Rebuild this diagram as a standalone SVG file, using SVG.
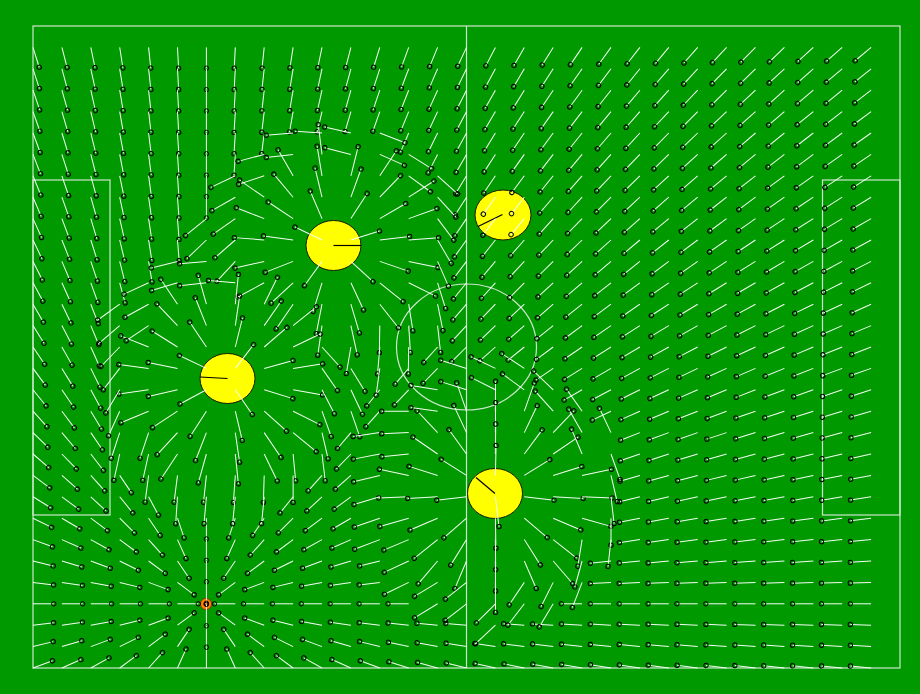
<svg xmlns="http://www.w3.org/2000/svg" width="920" height="694" viewBox="0 0 920 694">
<defs>
<style>
.b path{fill:none;stroke:none;marker-start:url(#mb)}
.r path{fill:none;stroke:none;marker-end:url(#mr)}
.m path{fill:none;stroke:none;marker-mid:url(#mm)}
.fl{fill:none;stroke:#cde6cd;stroke-width:1.2}
.pl{fill:#ffff00;stroke:#1a1a00;stroke-width:1}
.dir{stroke:#000;stroke-width:1.2}
</style>
<marker id="mb" markerUnits="userSpaceOnUse" orient="auto" refX="0" refY="0" markerWidth="1" markerHeight="1" overflow="visible"><path d="M0 0H20.8" stroke="#f4fff4" stroke-width="1"/><circle cx="20.8" cy="0" r="2.2" fill="none" stroke="#000" stroke-width="1"/></marker>
<marker id="mr" markerUnits="userSpaceOnUse" orient="auto" refX="0" refY="0" markerWidth="1" markerHeight="1" overflow="visible"><path d="M0 0H30" stroke="#f4fff4" stroke-width="1"/><circle cx="30" cy="0" r="2.2" fill="none" stroke="#000" stroke-width="1"/></marker>
<marker id="mm" markerUnits="userSpaceOnUse" orient="auto" refX="0" refY="0" markerWidth="1" markerHeight="1" overflow="visible"><path d="M0 0H27" stroke="#f4fff4" stroke-width="1"/><circle cx="27" cy="0" r="2.2" fill="none" stroke="#000" stroke-width="1"/></marker>
</defs>
<rect width="920" height="694" fill="#009900"/>
<g id="field">
<rect class="fl" x="33" y="26" width="867" height="642"/>
<line class="fl" x1="466.5" y1="26" x2="466.5" y2="668"/>
<ellipse class="fl" cx="466.5" cy="347" rx="70" ry="63"/>
<rect class="fl" x="33" y="180" width="77" height="335"/>
<rect class="fl" x="822.5" y="180" width="77.5" height="335"/>
</g>
<g id="player1"><ellipse class="pl" cx="333.5" cy="245.5" rx="27.5" ry="25"/><line class="dir" x1="333.5" y1="245.5" x2="361" y2="245.5"/></g>
<g id="player2"><ellipse class="pl" cx="227.5" cy="378.5" rx="27.5" ry="25"/><line class="dir" x1="227.5" y1="378.5" x2="200" y2="377"/></g>
<g id="player3"><ellipse class="pl" cx="503" cy="215" rx="28" ry="25"/><line class="dir" x1="502.5" y1="214.5" x2="478" y2="226.5"/></g>
<g id="player4"><ellipse class="pl" cx="495" cy="493.5" rx="27.5" ry="25"/><line class="dir" x1="495" y1="493.5" x2="476" y2="477.5"/></g>
<g id="ball"><circle cx="206" cy="604" r="5.6" fill="#ff8000" stroke="#8a3000" stroke-width="1"/><circle cx="206" cy="604" r="2.1" fill="none" stroke="#000" stroke-width="1"/></g>
<g id="connectors">
<g class="b">
<path d="M33 47.4L206.4 603.8"/><path d="M61.9 47.4L206.4 603.8"/><path d="M90.8 47.4L206.4 603.8"/><path d="M119.7 47.4L206.4 603.8"/><path d="M148.6 47.4L206.4 603.8"/><path d="M177.5 47.4L206.4 603.8"/><path d="M206.4 47.4L206.4 603.8"/><path d="M235.3 47.4L206.4 603.8"/><path d="M264.2 47.4L206.4 603.8"/><path d="M293.1 47.4L206.4 603.8"/><path d="M322 47.4L206.4 603.8"/><path d="M350.9 47.4L206.4 603.8"/><path d="M379.8 47.4L206.4 603.8"/><path d="M408.7 47.4L206.4 603.8"/><path d="M437.6 47.4L206.4 603.8"/><path d="M466.5 47.4L206.4 603.8"/><path d="M495.4 47.4L206.4 603.8"/><path d="M524.3 47.4L206.4 603.8"/><path d="M553.2 47.4L206.4 603.8"/><path d="M582.1 47.4L206.4 603.8"/><path d="M611 47.4L206.4 603.8"/><path d="M639.9 47.4L206.4 603.8"/><path d="M668.8 47.4L206.4 603.8"/><path d="M697.7 47.4L206.4 603.8"/><path d="M726.6 47.4L206.4 603.8"/><path d="M755.5 47.4L206.4 603.8"/><path d="M784.4 47.4L206.4 603.8"/><path d="M813.3 47.4L206.4 603.8"/><path d="M842.2 47.4L206.4 603.8"/><path d="M871.1 47.4L206.4 603.8"/>
<path d="M33 68.8L206.4 603.8"/><path d="M61.9 68.8L206.4 603.8"/><path d="M90.8 68.8L206.4 603.8"/><path d="M119.7 68.8L206.4 603.8"/><path d="M148.6 68.8L206.4 603.8"/><path d="M177.5 68.8L206.4 603.8"/><path d="M206.4 68.8L206.4 603.8"/><path d="M235.3 68.8L206.4 603.8"/><path d="M264.2 68.8L206.4 603.8"/><path d="M293.1 68.8L206.4 603.8"/><path d="M322 68.8L206.4 603.8"/><path d="M350.9 68.8L206.4 603.8"/><path d="M379.8 68.8L206.4 603.8"/><path d="M408.7 68.8L206.4 603.8"/><path d="M437.6 68.8L206.4 603.8"/><path d="M466.5 68.8L206.4 603.8"/><path d="M495.4 68.8L206.4 603.8"/><path d="M524.3 68.8L206.4 603.8"/><path d="M553.2 68.8L206.4 603.8"/><path d="M582.1 68.8L206.4 603.8"/><path d="M611 68.8L206.4 603.8"/><path d="M639.9 68.8L206.4 603.8"/><path d="M668.8 68.8L206.4 603.8"/><path d="M697.7 68.8L206.4 603.8"/><path d="M726.6 68.8L206.4 603.8"/><path d="M755.5 68.8L206.4 603.8"/><path d="M784.4 68.8L206.4 603.8"/><path d="M813.3 68.8L206.4 603.8"/><path d="M842.2 68.8L206.4 603.8"/><path d="M871.1 68.8L206.4 603.8"/>
<path d="M33 90.2L206.4 603.8"/><path d="M61.9 90.2L206.4 603.8"/><path d="M90.8 90.2L206.4 603.8"/><path d="M119.7 90.2L206.4 603.8"/><path d="M148.6 90.2L206.4 603.8"/><path d="M177.5 90.2L206.4 603.8"/><path d="M206.4 90.2L206.4 603.8"/><path d="M235.3 90.2L206.4 603.8"/><path d="M264.2 90.2L206.4 603.8"/><path d="M293.1 90.2L206.4 603.8"/><path d="M322 90.2L206.4 603.8"/><path d="M350.9 90.2L206.4 603.8"/><path d="M379.8 90.2L206.4 603.8"/><path d="M408.7 90.2L206.4 603.8"/><path d="M437.6 90.2L206.4 603.8"/><path d="M466.5 90.2L206.4 603.8"/><path d="M495.4 90.2L206.4 603.8"/><path d="M524.3 90.2L206.4 603.8"/><path d="M553.2 90.2L206.4 603.8"/><path d="M582.1 90.2L206.4 603.8"/><path d="M611 90.2L206.4 603.8"/><path d="M639.9 90.2L206.4 603.8"/><path d="M668.8 90.2L206.4 603.8"/><path d="M697.7 90.2L206.4 603.8"/><path d="M726.6 90.2L206.4 603.8"/><path d="M755.5 90.2L206.4 603.8"/><path d="M784.4 90.2L206.4 603.8"/><path d="M813.3 90.2L206.4 603.8"/><path d="M842.2 90.2L206.4 603.8"/><path d="M871.1 90.2L206.4 603.8"/>
<path d="M33 111.6L206.4 603.8"/><path d="M61.9 111.6L206.4 603.8"/><path d="M90.8 111.6L206.4 603.8"/><path d="M119.7 111.6L206.4 603.8"/><path d="M148.6 111.6L206.4 603.8"/><path d="M177.5 111.6L206.4 603.8"/><path d="M206.4 111.6L206.4 603.8"/><path d="M235.3 111.6L206.4 603.8"/><path d="M264.2 111.6L206.4 603.8"/><path d="M293.1 111.6L206.4 603.8"/><path d="M322 111.6L206.4 603.8"/><path d="M350.9 111.6L206.4 603.8"/><path d="M379.8 111.6L206.4 603.8"/><path d="M408.7 111.6L206.4 603.8"/><path d="M437.6 111.6L206.4 603.8"/><path d="M466.5 111.6L206.4 603.8"/><path d="M495.4 111.6L206.4 603.8"/><path d="M524.3 111.6L206.4 603.8"/><path d="M553.2 111.6L206.4 603.8"/><path d="M582.1 111.6L206.4 603.8"/><path d="M611 111.6L206.4 603.8"/><path d="M639.9 111.6L206.4 603.8"/><path d="M668.8 111.6L206.4 603.8"/><path d="M697.7 111.6L206.4 603.8"/><path d="M726.6 111.6L206.4 603.8"/><path d="M755.5 111.6L206.4 603.8"/><path d="M784.4 111.6L206.4 603.8"/><path d="M813.3 111.6L206.4 603.8"/><path d="M842.2 111.6L206.4 603.8"/><path d="M871.1 111.6L206.4 603.8"/>
<path d="M33 133L206.4 603.8"/><path d="M61.9 133L206.4 603.8"/><path d="M90.8 133L206.4 603.8"/><path d="M119.7 133L206.4 603.8"/><path d="M148.6 133L206.4 603.8"/><path d="M177.5 133L206.4 603.8"/><path d="M206.4 133L206.4 603.8"/><path d="M235.3 133L206.4 603.8"/><path d="M264.2 133L206.4 603.8"/><path d="M408.7 133L206.4 603.8"/><path d="M437.6 133L206.4 603.8"/><path d="M466.5 133L206.4 603.8"/><path d="M495.4 133L206.4 603.8"/><path d="M524.3 133L206.4 603.8"/><path d="M553.2 133L206.4 603.8"/><path d="M582.1 133L206.4 603.8"/><path d="M611 133L206.4 603.8"/><path d="M639.9 133L206.4 603.8"/><path d="M668.8 133L206.4 603.8"/><path d="M697.7 133L206.4 603.8"/><path d="M726.6 133L206.4 603.8"/><path d="M755.5 133L206.4 603.8"/><path d="M784.4 133L206.4 603.8"/><path d="M813.3 133L206.4 603.8"/><path d="M842.2 133L206.4 603.8"/><path d="M871.1 133L206.4 603.8"/>
<path d="M33 154.4L206.4 603.8"/><path d="M61.9 154.4L206.4 603.8"/><path d="M90.8 154.4L206.4 603.8"/><path d="M119.7 154.4L206.4 603.8"/><path d="M148.6 154.4L206.4 603.8"/><path d="M177.5 154.4L206.4 603.8"/><path d="M206.4 154.4L206.4 603.8"/><path d="M235.3 154.4L206.4 603.8"/><path d="M437.6 154.4L206.4 603.8"/><path d="M466.5 154.4L206.4 603.8"/><path d="M495.4 154.4L206.4 603.8"/><path d="M524.3 154.4L206.4 603.8"/><path d="M553.2 154.4L206.4 603.8"/><path d="M582.1 154.4L206.4 603.8"/><path d="M611 154.4L206.4 603.8"/><path d="M639.9 154.4L206.4 603.8"/><path d="M668.8 154.4L206.4 603.8"/><path d="M697.7 154.4L206.4 603.8"/><path d="M726.6 154.4L206.4 603.8"/><path d="M755.5 154.4L206.4 603.8"/><path d="M784.4 154.4L206.4 603.8"/><path d="M813.3 154.4L206.4 603.8"/><path d="M842.2 154.4L206.4 603.8"/><path d="M871.1 154.4L206.4 603.8"/>
<path d="M33 175.8L206.4 603.8"/><path d="M61.9 175.8L206.4 603.8"/><path d="M90.8 175.8L206.4 603.8"/><path d="M119.7 175.8L206.4 603.8"/><path d="M148.6 175.8L206.4 603.8"/><path d="M177.5 175.8L206.4 603.8"/><path d="M206.4 175.8L206.4 603.8"/><path d="M466.5 175.8L206.4 603.8"/><path d="M495.4 175.8L206.4 603.8"/><path d="M524.3 175.8L206.4 603.8"/><path d="M553.2 175.8L206.4 603.8"/><path d="M582.1 175.8L206.4 603.8"/><path d="M611 175.8L206.4 603.8"/><path d="M639.9 175.8L206.4 603.8"/><path d="M668.8 175.8L206.4 603.8"/><path d="M697.7 175.8L206.4 603.8"/><path d="M726.6 175.8L206.4 603.8"/><path d="M755.5 175.8L206.4 603.8"/><path d="M784.4 175.8L206.4 603.8"/><path d="M813.3 175.8L206.4 603.8"/><path d="M842.2 175.8L206.4 603.8"/><path d="M871.1 175.8L206.4 603.8"/>
<path d="M33 197.2L206.4 603.8"/><path d="M61.9 197.2L206.4 603.8"/><path d="M90.8 197.2L206.4 603.8"/><path d="M119.7 197.2L206.4 603.8"/><path d="M148.6 197.2L206.4 603.8"/><path d="M177.5 197.2L206.4 603.8"/><path d="M206.4 197.2L206.4 603.8"/><path d="M466.5 197.2L206.4 603.8"/><path d="M495.4 197.2L206.4 603.8"/><path d="M524.3 197.2L206.4 603.8"/><path d="M553.2 197.2L206.4 603.8"/><path d="M582.1 197.2L206.4 603.8"/><path d="M611 197.2L206.4 603.8"/><path d="M639.9 197.2L206.4 603.8"/><path d="M668.8 197.2L206.4 603.8"/><path d="M697.7 197.2L206.4 603.8"/><path d="M726.6 197.2L206.4 603.8"/><path d="M755.5 197.2L206.4 603.8"/><path d="M784.4 197.2L206.4 603.8"/><path d="M813.3 197.2L206.4 603.8"/><path d="M842.2 197.2L206.4 603.8"/><path d="M871.1 197.2L206.4 603.8"/>
<path d="M33 218.6L206.4 603.8"/><path d="M61.9 218.6L206.4 603.8"/><path d="M90.8 218.6L206.4 603.8"/><path d="M119.7 218.6L206.4 603.8"/><path d="M148.6 218.6L206.4 603.8"/><path d="M177.5 218.6L206.4 603.8"/><path d="M466.5 218.6L206.4 603.8"/><path d="M495.4 218.6L206.4 603.8"/><path d="M524.3 218.6L206.4 603.8"/><path d="M553.2 218.6L206.4 603.8"/><path d="M582.1 218.6L206.4 603.8"/><path d="M611 218.6L206.4 603.8"/><path d="M639.9 218.6L206.4 603.8"/><path d="M668.8 218.6L206.4 603.8"/><path d="M697.7 218.6L206.4 603.8"/><path d="M726.6 218.6L206.4 603.8"/><path d="M755.5 218.6L206.4 603.8"/><path d="M784.4 218.6L206.4 603.8"/><path d="M813.3 218.6L206.4 603.8"/><path d="M842.2 218.6L206.4 603.8"/><path d="M871.1 218.6L206.4 603.8"/>
<path d="M33 240L206.4 603.8"/><path d="M61.9 240L206.4 603.8"/><path d="M90.8 240L206.4 603.8"/><path d="M119.7 240L206.4 603.8"/><path d="M148.6 240L206.4 603.8"/><path d="M177.5 240L206.4 603.8"/><path d="M466.5 240L206.4 603.8"/><path d="M495.4 240L206.4 603.8"/><path d="M524.3 240L206.4 603.8"/><path d="M553.2 240L206.4 603.8"/><path d="M582.1 240L206.4 603.8"/><path d="M611 240L206.4 603.8"/><path d="M639.9 240L206.4 603.8"/><path d="M668.8 240L206.4 603.8"/><path d="M697.7 240L206.4 603.8"/><path d="M726.6 240L206.4 603.8"/><path d="M755.5 240L206.4 603.8"/><path d="M784.4 240L206.4 603.8"/><path d="M813.3 240L206.4 603.8"/><path d="M842.2 240L206.4 603.8"/><path d="M871.1 240L206.4 603.8"/>
<path d="M33 261.4L206.4 603.8"/><path d="M61.9 261.4L206.4 603.8"/><path d="M90.8 261.4L206.4 603.8"/><path d="M119.7 261.4L206.4 603.8"/><path d="M148.6 261.4L206.4 603.8"/><path d="M466.5 261.4L206.4 603.8"/><path d="M495.4 261.4L206.4 603.8"/><path d="M524.3 261.4L206.4 603.8"/><path d="M553.2 261.4L206.4 603.8"/><path d="M582.1 261.4L206.4 603.8"/><path d="M611 261.4L206.4 603.8"/><path d="M639.9 261.4L206.4 603.8"/><path d="M668.8 261.4L206.4 603.8"/><path d="M697.7 261.4L206.4 603.8"/><path d="M726.6 261.4L206.4 603.8"/><path d="M755.5 261.4L206.4 603.8"/><path d="M784.4 261.4L206.4 603.8"/><path d="M813.3 261.4L206.4 603.8"/><path d="M842.2 261.4L206.4 603.8"/><path d="M871.1 261.4L206.4 603.8"/>
<path d="M33 282.8L206.4 603.8"/><path d="M61.9 282.8L206.4 603.8"/><path d="M90.8 282.8L206.4 603.8"/><path d="M119.7 282.8L206.4 603.8"/><path d="M466.5 282.8L206.4 603.8"/><path d="M495.4 282.8L206.4 603.8"/><path d="M524.3 282.8L206.4 603.8"/><path d="M553.2 282.8L206.4 603.8"/><path d="M582.1 282.8L206.4 603.8"/><path d="M611 282.8L206.4 603.8"/><path d="M639.9 282.8L206.4 603.8"/><path d="M668.8 282.8L206.4 603.8"/><path d="M697.7 282.8L206.4 603.8"/><path d="M726.6 282.8L206.4 603.8"/><path d="M755.5 282.8L206.4 603.8"/><path d="M784.4 282.8L206.4 603.8"/><path d="M813.3 282.8L206.4 603.8"/><path d="M842.2 282.8L206.4 603.8"/><path d="M871.1 282.8L206.4 603.8"/>
<path d="M33 304.2L206.4 603.8"/><path d="M61.9 304.2L206.4 603.8"/><path d="M90.8 304.2L206.4 603.8"/><path d="M466.5 304.2L206.4 603.8"/><path d="M495.4 304.2L206.4 603.8"/><path d="M524.3 304.2L206.4 603.8"/><path d="M553.2 304.2L206.4 603.8"/><path d="M582.1 304.2L206.4 603.8"/><path d="M611 304.2L206.4 603.8"/><path d="M639.9 304.2L206.4 603.8"/><path d="M668.8 304.2L206.4 603.8"/><path d="M697.7 304.2L206.4 603.8"/><path d="M726.6 304.2L206.4 603.8"/><path d="M755.5 304.2L206.4 603.8"/><path d="M784.4 304.2L206.4 603.8"/><path d="M813.3 304.2L206.4 603.8"/><path d="M842.2 304.2L206.4 603.8"/><path d="M871.1 304.2L206.4 603.8"/>
<path d="M33 325.6L206.4 603.8"/><path d="M61.9 325.6L206.4 603.8"/><path d="M90.8 325.6L206.4 603.8"/><path d="M466.5 325.6L206.4 603.8"/><path d="M495.4 325.6L206.4 603.8"/><path d="M524.3 325.6L206.4 603.8"/><path d="M553.2 325.6L206.4 603.8"/><path d="M582.1 325.6L206.4 603.8"/><path d="M611 325.6L206.4 603.8"/><path d="M639.9 325.6L206.4 603.8"/><path d="M668.8 325.6L206.4 603.8"/><path d="M697.7 325.6L206.4 603.8"/><path d="M726.6 325.6L206.4 603.8"/><path d="M755.5 325.6L206.4 603.8"/><path d="M784.4 325.6L206.4 603.8"/><path d="M813.3 325.6L206.4 603.8"/><path d="M842.2 325.6L206.4 603.8"/><path d="M871.1 325.6L206.4 603.8"/>
<path d="M33 347L206.4 603.8"/><path d="M61.9 347L206.4 603.8"/><path d="M90.8 347L206.4 603.8"/><path d="M437.6 347L206.4 603.8"/><path d="M466.5 347L206.4 603.8"/><path d="M495.4 347L206.4 603.8"/><path d="M524.3 347L206.4 603.8"/><path d="M553.2 347L206.4 603.8"/><path d="M582.1 347L206.4 603.8"/><path d="M611 347L206.4 603.8"/><path d="M639.9 347L206.4 603.8"/><path d="M668.8 347L206.4 603.8"/><path d="M697.7 347L206.4 603.8"/><path d="M726.6 347L206.4 603.8"/><path d="M755.5 347L206.4 603.8"/><path d="M784.4 347L206.4 603.8"/><path d="M813.3 347L206.4 603.8"/><path d="M842.2 347L206.4 603.8"/><path d="M871.1 347L206.4 603.8"/>
<path d="M33 368.4L206.4 603.8"/><path d="M61.9 368.4L206.4 603.8"/><path d="M90.8 368.4L206.4 603.8"/><path d="M408.7 368.4L206.4 603.8"/><path d="M437.6 368.4L206.4 603.8"/><path d="M553.2 368.4L206.4 603.8"/><path d="M582.1 368.4L206.4 603.8"/><path d="M611 368.4L206.4 603.8"/><path d="M639.9 368.4L206.4 603.8"/><path d="M668.8 368.4L206.4 603.8"/><path d="M697.7 368.4L206.4 603.8"/><path d="M726.6 368.4L206.4 603.8"/><path d="M755.5 368.4L206.4 603.8"/><path d="M784.4 368.4L206.4 603.8"/><path d="M813.3 368.4L206.4 603.8"/><path d="M842.2 368.4L206.4 603.8"/><path d="M871.1 368.4L206.4 603.8"/>
<path d="M33 389.8L206.4 603.8"/><path d="M61.9 389.8L206.4 603.8"/><path d="M90.8 389.8L206.4 603.8"/><path d="M379.8 389.8L206.4 603.8"/><path d="M408.7 389.8L206.4 603.8"/><path d="M582.1 389.8L206.4 603.8"/><path d="M611 389.8L206.4 603.8"/><path d="M639.9 389.8L206.4 603.8"/><path d="M668.8 389.8L206.4 603.8"/><path d="M697.7 389.8L206.4 603.8"/><path d="M726.6 389.8L206.4 603.8"/><path d="M755.5 389.8L206.4 603.8"/><path d="M784.4 389.8L206.4 603.8"/><path d="M813.3 389.8L206.4 603.8"/><path d="M842.2 389.8L206.4 603.8"/><path d="M871.1 389.8L206.4 603.8"/>
<path d="M33 411.2L206.4 603.8"/><path d="M61.9 411.2L206.4 603.8"/><path d="M90.8 411.2L206.4 603.8"/><path d="M379.8 411.2L206.4 603.8"/><path d="M611 411.2L206.4 603.8"/><path d="M639.9 411.2L206.4 603.8"/><path d="M668.8 411.2L206.4 603.8"/><path d="M697.7 411.2L206.4 603.8"/><path d="M726.6 411.2L206.4 603.8"/><path d="M755.5 411.2L206.4 603.8"/><path d="M784.4 411.2L206.4 603.8"/><path d="M813.3 411.2L206.4 603.8"/><path d="M842.2 411.2L206.4 603.8"/><path d="M871.1 411.2L206.4 603.8"/>
<path d="M33 432.6L206.4 603.8"/><path d="M61.9 432.6L206.4 603.8"/><path d="M90.8 432.6L206.4 603.8"/><path d="M350.9 432.6L206.4 603.8"/><path d="M639.9 432.6L206.4 603.8"/><path d="M668.8 432.6L206.4 603.8"/><path d="M697.7 432.6L206.4 603.8"/><path d="M726.6 432.6L206.4 603.8"/><path d="M755.5 432.6L206.4 603.8"/><path d="M784.4 432.6L206.4 603.8"/><path d="M813.3 432.6L206.4 603.8"/><path d="M842.2 432.6L206.4 603.8"/><path d="M871.1 432.6L206.4 603.8"/>
<path d="M33 454L206.4 603.8"/><path d="M61.9 454L206.4 603.8"/><path d="M90.8 454L206.4 603.8"/><path d="M350.9 454L206.4 603.8"/><path d="M639.9 454L206.4 603.8"/><path d="M668.8 454L206.4 603.8"/><path d="M697.7 454L206.4 603.8"/><path d="M726.6 454L206.4 603.8"/><path d="M755.5 454L206.4 603.8"/><path d="M784.4 454L206.4 603.8"/><path d="M813.3 454L206.4 603.8"/><path d="M842.2 454L206.4 603.8"/><path d="M871.1 454L206.4 603.8"/>
<path d="M33 475.4L206.4 603.8"/><path d="M61.9 475.4L206.4 603.8"/><path d="M90.8 475.4L206.4 603.8"/><path d="M119.7 475.4L206.4 603.8"/><path d="M322 475.4L206.4 603.8"/><path d="M350.9 475.4L206.4 603.8"/><path d="M639.9 475.4L206.4 603.8"/><path d="M668.8 475.4L206.4 603.8"/><path d="M697.7 475.4L206.4 603.8"/><path d="M726.6 475.4L206.4 603.8"/><path d="M755.5 475.4L206.4 603.8"/><path d="M784.4 475.4L206.4 603.8"/><path d="M813.3 475.4L206.4 603.8"/><path d="M842.2 475.4L206.4 603.8"/><path d="M871.1 475.4L206.4 603.8"/>
<path d="M33 496.8L206.4 603.8"/><path d="M61.9 496.8L206.4 603.8"/><path d="M90.8 496.8L206.4 603.8"/><path d="M119.7 496.8L206.4 603.8"/><path d="M148.6 496.8L206.4 603.8"/><path d="M293.1 496.8L206.4 603.8"/><path d="M322 496.8L206.4 603.8"/><path d="M350.9 496.8L206.4 603.8"/><path d="M639.9 496.8L206.4 603.8"/><path d="M668.8 496.8L206.4 603.8"/><path d="M697.7 496.8L206.4 603.8"/><path d="M726.6 496.8L206.4 603.8"/><path d="M755.5 496.8L206.4 603.8"/><path d="M784.4 496.8L206.4 603.8"/><path d="M813.3 496.8L206.4 603.8"/><path d="M842.2 496.8L206.4 603.8"/><path d="M871.1 496.8L206.4 603.8"/>
<path d="M33 518.2L206.4 603.8"/><path d="M61.9 518.2L206.4 603.8"/><path d="M90.8 518.2L206.4 603.8"/><path d="M119.7 518.2L206.4 603.8"/><path d="M148.6 518.2L206.4 603.8"/><path d="M177.5 518.2L206.4 603.8"/><path d="M206.4 518.2L206.4 603.8"/><path d="M235.3 518.2L206.4 603.8"/><path d="M264.2 518.2L206.4 603.8"/><path d="M293.1 518.2L206.4 603.8"/><path d="M322 518.2L206.4 603.8"/><path d="M350.9 518.2L206.4 603.8"/><path d="M639.9 518.2L206.4 603.8"/><path d="M668.8 518.2L206.4 603.8"/><path d="M697.7 518.2L206.4 603.8"/><path d="M726.6 518.2L206.4 603.8"/><path d="M755.5 518.2L206.4 603.8"/><path d="M784.4 518.2L206.4 603.8"/><path d="M813.3 518.2L206.4 603.8"/><path d="M842.2 518.2L206.4 603.8"/><path d="M871.1 518.2L206.4 603.8"/>
<path d="M33 539.6L206.4 603.8"/><path d="M61.9 539.6L206.4 603.8"/><path d="M90.8 539.6L206.4 603.8"/><path d="M119.7 539.6L206.4 603.8"/><path d="M148.6 539.6L206.4 603.8"/><path d="M177.5 539.6L206.4 603.8"/><path d="M206.4 539.6L206.4 603.8"/><path d="M235.3 539.6L206.4 603.8"/><path d="M264.2 539.6L206.4 603.8"/><path d="M293.1 539.6L206.4 603.8"/><path d="M322 539.6L206.4 603.8"/><path d="M350.9 539.6L206.4 603.8"/><path d="M639.9 539.6L206.4 603.8"/><path d="M668.8 539.6L206.4 603.8"/><path d="M697.7 539.6L206.4 603.8"/><path d="M726.6 539.6L206.4 603.8"/><path d="M755.5 539.6L206.4 603.8"/><path d="M784.4 539.6L206.4 603.8"/><path d="M813.3 539.6L206.4 603.8"/><path d="M842.2 539.6L206.4 603.8"/><path d="M871.1 539.6L206.4 603.8"/>
<path d="M33 561L206.4 603.8"/><path d="M61.9 561L206.4 603.8"/><path d="M90.8 561L206.4 603.8"/><path d="M119.7 561L206.4 603.8"/><path d="M148.6 561L206.4 603.8"/><path d="M177.5 561L206.4 603.8"/><path d="M206.4 561L206.4 603.8"/><path d="M235.3 561L206.4 603.8"/><path d="M264.2 561L206.4 603.8"/><path d="M293.1 561L206.4 603.8"/><path d="M322 561L206.4 603.8"/><path d="M350.9 561L206.4 603.8"/><path d="M379.8 561L206.4 603.8"/><path d="M611 561L206.4 603.8"/><path d="M639.9 561L206.4 603.8"/><path d="M668.8 561L206.4 603.8"/><path d="M697.7 561L206.4 603.8"/><path d="M726.6 561L206.4 603.8"/><path d="M755.5 561L206.4 603.8"/><path d="M784.4 561L206.4 603.8"/><path d="M813.3 561L206.4 603.8"/><path d="M842.2 561L206.4 603.8"/><path d="M871.1 561L206.4 603.8"/>
<path d="M33 582.4L206.4 603.8"/><path d="M61.9 582.4L206.4 603.8"/><path d="M90.8 582.4L206.4 603.8"/><path d="M119.7 582.4L206.4 603.8"/><path d="M148.6 582.4L206.4 603.8"/><path d="M177.5 582.4L206.4 603.8"/><path d="M206.4 582.4L206.4 603.8"/><path d="M235.3 582.4L206.4 603.8"/><path d="M264.2 582.4L206.4 603.8"/><path d="M293.1 582.4L206.4 603.8"/><path d="M322 582.4L206.4 603.8"/><path d="M350.9 582.4L206.4 603.8"/><path d="M379.8 582.4L206.4 603.8"/><path d="M611 582.4L206.4 603.8"/><path d="M639.9 582.4L206.4 603.8"/><path d="M668.8 582.4L206.4 603.8"/><path d="M697.7 582.4L206.4 603.8"/><path d="M726.6 582.4L206.4 603.8"/><path d="M755.5 582.4L206.4 603.8"/><path d="M784.4 582.4L206.4 603.8"/><path d="M813.3 582.4L206.4 603.8"/><path d="M842.2 582.4L206.4 603.8"/><path d="M871.1 582.4L206.4 603.8"/>
<path d="M33 603.8L206.4 603.8"/><path d="M61.9 603.8L206.4 603.8"/><path d="M90.8 603.8L206.4 603.8"/><path d="M119.7 603.8L206.4 603.8"/><path d="M148.6 603.8L206.4 603.8"/><path d="M177.5 603.8L206.4 603.8"/><path d="M235.3 603.8L206.4 603.8"/><path d="M264.2 603.8L206.4 603.8"/><path d="M293.1 603.8L206.4 603.8"/><path d="M322 603.8L206.4 603.8"/><path d="M350.9 603.8L206.4 603.8"/><path d="M379.8 603.8L206.4 603.8"/><path d="M408.7 603.8L206.4 603.8"/><path d="M582.1 603.8L206.4 603.8"/><path d="M611 603.8L206.4 603.8"/><path d="M639.9 603.8L206.4 603.8"/><path d="M668.8 603.8L206.4 603.8"/><path d="M697.7 603.8L206.4 603.8"/><path d="M726.6 603.8L206.4 603.8"/><path d="M755.5 603.8L206.4 603.8"/><path d="M784.4 603.8L206.4 603.8"/><path d="M813.3 603.8L206.4 603.8"/><path d="M842.2 603.8L206.4 603.8"/><path d="M871.1 603.8L206.4 603.8"/>
<path d="M33 625.2L206.4 603.8"/><path d="M61.9 625.2L206.4 603.8"/><path d="M90.8 625.2L206.4 603.8"/><path d="M119.7 625.2L206.4 603.8"/><path d="M148.6 625.2L206.4 603.8"/><path d="M177.5 625.2L206.4 603.8"/><path d="M206.4 625.2L206.4 603.8"/><path d="M235.3 625.2L206.4 603.8"/><path d="M264.2 625.2L206.4 603.8"/><path d="M293.1 625.2L206.4 603.8"/><path d="M322 625.2L206.4 603.8"/><path d="M350.9 625.2L206.4 603.8"/><path d="M379.8 625.2L206.4 603.8"/><path d="M408.7 625.2L206.4 603.8"/><path d="M437.6 625.2L206.4 603.8"/><path d="M466.5 625.2L206.4 603.8"/><path d="M524.3 625.2L206.4 603.8"/><path d="M553.2 625.2L206.4 603.8"/><path d="M582.1 625.2L206.4 603.8"/><path d="M611 625.2L206.4 603.8"/><path d="M639.9 625.2L206.4 603.8"/><path d="M668.8 625.2L206.4 603.8"/><path d="M697.7 625.2L206.4 603.8"/><path d="M726.6 625.2L206.4 603.8"/><path d="M755.5 625.2L206.4 603.8"/><path d="M784.4 625.2L206.4 603.8"/><path d="M813.3 625.2L206.4 603.8"/><path d="M842.2 625.2L206.4 603.8"/><path d="M871.1 625.2L206.4 603.8"/>
<path d="M33 646.6L206.4 603.8"/><path d="M61.9 646.6L206.4 603.8"/><path d="M90.8 646.6L206.4 603.8"/><path d="M119.7 646.6L206.4 603.8"/><path d="M148.6 646.6L206.4 603.8"/><path d="M177.5 646.6L206.4 603.8"/><path d="M206.4 646.6L206.4 603.8"/><path d="M235.3 646.6L206.4 603.8"/><path d="M264.2 646.6L206.4 603.8"/><path d="M293.1 646.6L206.4 603.8"/><path d="M322 646.6L206.4 603.8"/><path d="M350.9 646.6L206.4 603.8"/><path d="M379.8 646.6L206.4 603.8"/><path d="M408.7 646.6L206.4 603.8"/><path d="M437.6 646.6L206.4 603.8"/><path d="M466.5 646.6L206.4 603.8"/><path d="M495.4 646.6L206.4 603.8"/><path d="M524.3 646.6L206.4 603.8"/><path d="M553.2 646.6L206.4 603.8"/><path d="M582.1 646.6L206.4 603.8"/><path d="M611 646.6L206.4 603.8"/><path d="M639.9 646.6L206.4 603.8"/><path d="M668.8 646.6L206.4 603.8"/><path d="M697.7 646.6L206.4 603.8"/><path d="M726.6 646.6L206.4 603.8"/><path d="M755.5 646.6L206.4 603.8"/><path d="M784.4 646.6L206.4 603.8"/><path d="M813.3 646.6L206.4 603.8"/><path d="M842.2 646.6L206.4 603.8"/><path d="M871.1 646.6L206.4 603.8"/>
<path d="M33 668L206.4 603.8"/><path d="M61.9 668L206.4 603.8"/><path d="M90.8 668L206.4 603.8"/><path d="M119.7 668L206.4 603.8"/><path d="M148.6 668L206.4 603.8"/><path d="M177.5 668L206.4 603.8"/><path d="M206.4 668L206.4 603.8"/><path d="M235.3 668L206.4 603.8"/><path d="M264.2 668L206.4 603.8"/><path d="M293.1 668L206.4 603.8"/><path d="M322 668L206.4 603.8"/><path d="M350.9 668L206.4 603.8"/><path d="M379.8 668L206.4 603.8"/><path d="M408.7 668L206.4 603.8"/><path d="M437.6 668L206.4 603.8"/><path d="M466.5 668L206.4 603.8"/><path d="M495.4 668L206.4 603.8"/><path d="M524.3 668L206.4 603.8"/><path d="M553.2 668L206.4 603.8"/><path d="M582.1 668L206.4 603.8"/><path d="M611 668L206.4 603.8"/><path d="M639.9 668L206.4 603.8"/><path d="M668.8 668L206.4 603.8"/><path d="M697.7 668L206.4 603.8"/><path d="M726.6 668L206.4 603.8"/><path d="M755.5 668L206.4 603.8"/><path d="M784.4 668L206.4 603.8"/><path d="M813.3 668L206.4 603.8"/><path d="M842.2 668L206.4 603.8"/><path d="M871.1 668L206.4 603.8"/>
</g>
<g class="r">
<path d="M333.5 245.5L322 154.4"/>
<path d="M333.5 245.5L293.1 175.8"/><path d="M333.5 245.5L322 175.8"/><path d="M333.5 245.5L350.9 175.8"/><path d="M333.5 245.5L379.8 175.8"/>
<path d="M333.5 245.5L264.2 197.2"/><path d="M333.5 245.5L293.1 197.2"/><path d="M333.5 245.5L322 197.2"/><path d="M333.5 245.5L350.9 197.2"/><path d="M333.5 245.5L379.8 197.2"/><path d="M333.5 245.5L408.7 197.2"/>
<path d="M333.5 245.5L264.2 218.6"/><path d="M333.5 245.5L293.1 218.6"/><path d="M333.5 245.5L322 218.6"/><path d="M333.5 245.5L350.9 218.6"/><path d="M333.5 245.5L379.8 218.6"/><path d="M333.5 245.5L408.7 218.6"/>
<path d="M333.5 245.5L264.2 240"/><path d="M333.5 245.5L293.1 240"/><path d="M333.5 245.5L322 240"/><path d="M333.5 245.5L350.9 240"/><path d="M333.5 245.5L379.8 240"/><path d="M333.5 245.5L408.7 240"/>
<path d="M333.5 245.5L264.2 261.4"/><path d="M333.5 245.5L293.1 261.4"/><path d="M333.5 245.5L322 261.4"/><path d="M333.5 245.5L350.9 261.4"/><path d="M333.5 245.5L379.8 261.4"/><path d="M333.5 245.5L408.7 261.4"/>
<path d="M333.5 245.5L264.2 282.8"/><path d="M333.5 245.5L293.1 282.8"/><path d="M333.5 245.5L322 282.8"/><path d="M333.5 245.5L350.9 282.8"/><path d="M333.5 245.5L379.8 282.8"/><path d="M333.5 245.5L408.7 282.8"/>
<path d="M333.5 245.5L293.1 304.2"/><path d="M333.5 245.5L322 304.2"/><path d="M333.5 245.5L350.9 304.2"/><path d="M333.5 245.5L379.8 304.2"/>
<path d="M333.5 245.5L322 325.6"/><path d="M333.5 245.5L350.9 325.6"/>
<path d="M227.5 378.5L177.5 304.2"/><path d="M227.5 378.5L206.4 304.2"/><path d="M227.5 378.5L235.3 304.2"/><path d="M227.5 378.5L264.2 304.2"/>
<path d="M227.5 378.5L177.5 325.6"/><path d="M227.5 378.5L206.4 325.6"/><path d="M227.5 378.5L235.3 325.6"/><path d="M227.5 378.5L264.2 325.6"/><path d="M227.5 378.5L293.1 325.6"/>
<path d="M227.5 378.5L148.6 347"/><path d="M227.5 378.5L177.5 347"/><path d="M227.5 378.5L206.4 347"/><path d="M227.5 378.5L235.3 347"/><path d="M227.5 378.5L264.2 347"/><path d="M227.5 378.5L293.1 347"/>
<path d="M227.5 378.5L148.6 368.4"/><path d="M227.5 378.5L177.5 368.4"/><path d="M227.5 378.5L206.4 368.4"/><path d="M227.5 378.5L235.3 368.4"/><path d="M227.5 378.5L264.2 368.4"/><path d="M227.5 378.5L293.1 368.4"/>
<path d="M227.5 378.5L148.6 389.8"/><path d="M227.5 378.5L177.5 389.8"/><path d="M227.5 378.5L206.4 389.8"/><path d="M227.5 378.5L235.3 389.8"/><path d="M227.5 378.5L264.2 389.8"/><path d="M227.5 378.5L293.1 389.8"/>
<path d="M227.5 378.5L148.6 411.2"/><path d="M227.5 378.5L177.5 411.2"/><path d="M227.5 378.5L206.4 411.2"/><path d="M227.5 378.5L235.3 411.2"/><path d="M227.5 378.5L264.2 411.2"/><path d="M227.5 378.5L293.1 411.2"/>
<path d="M227.5 378.5L177.5 432.6"/><path d="M227.5 378.5L206.4 432.6"/><path d="M227.5 378.5L235.3 432.6"/><path d="M227.5 378.5L264.2 432.6"/><path d="M227.5 378.5L293.1 432.6"/>
<path d="M227.5 378.5L177.5 454"/><path d="M227.5 378.5L206.4 454"/><path d="M227.5 378.5L235.3 454"/><path d="M227.5 378.5L264.2 454"/>
<path d="M495 493.5L466.5 411.2"/><path d="M495 493.5L495.4 411.2"/><path d="M495 493.5L524.3 411.2"/>
<path d="M495 493.5L437.6 432.6"/><path d="M495 493.5L466.5 432.6"/><path d="M495 493.5L495.4 432.6"/><path d="M495 493.5L524.3 432.6"/><path d="M495 493.5L553.2 432.6"/>
<path d="M495 493.5L437.6 454"/><path d="M495 493.5L466.5 454"/><path d="M495 493.5L495.4 454"/><path d="M495 493.5L524.3 454"/><path d="M495 493.5L553.2 454"/>
<path d="M495 493.5L408.7 475.4"/><path d="M495 493.5L437.6 475.4"/><path d="M495 493.5L466.5 475.4"/><path d="M495 493.5L495.4 475.4"/><path d="M495 493.5L524.3 475.4"/><path d="M495 493.5L553.2 475.4"/><path d="M495 493.5L582.1 475.4"/>
<path d="M495 493.5L408.7 496.8"/><path d="M495 493.5L437.6 496.8"/><path d="M495 493.5L466.5 496.8"/><path d="M495 493.5L495.4 496.8"/><path d="M495 493.5L524.3 496.8"/><path d="M495 493.5L553.2 496.8"/><path d="M495 493.5L582.1 496.8"/>
<path d="M495 493.5L408.7 518.2"/><path d="M495 493.5L437.6 518.2"/><path d="M495 493.5L466.5 518.2"/><path d="M495 493.5L495.4 518.2"/><path d="M495 493.5L524.3 518.2"/><path d="M495 493.5L553.2 518.2"/><path d="M495 493.5L582.1 518.2"/>
<path d="M495 493.5L437.6 539.6"/><path d="M495 493.5L466.5 539.6"/><path d="M495 493.5L495.4 539.6"/><path d="M495 493.5L524.3 539.6"/><path d="M495 493.5L553.2 539.6"/>
<path d="M495 493.5L437.6 561"/><path d="M495 493.5L466.5 561"/><path d="M495 493.5L495.4 561"/><path d="M495 493.5L524.3 561"/><path d="M495 493.5L553.2 561"/>
<path d="M495 493.5L495.4 582.4"/>
</g>
<g class="m">
<path d="M333.5 245.5L293.1 133L206.4 603.8"/><path d="M333.5 245.5L322 133L206.4 603.8"/><path d="M333.5 245.5L350.9 133L206.4 603.8"/><path d="M333.5 245.5L379.8 133L206.4 603.8"/>
<path d="M333.5 245.5L264.2 154.4L206.4 603.8"/><path d="M333.5 245.5L293.1 154.4L206.4 603.8"/><path d="M333.5 245.5L350.9 154.4L206.4 603.8"/><path d="M333.5 245.5L379.8 154.4L206.4 603.8"/><path d="M333.5 245.5L408.7 154.4L206.4 603.8"/>
<path d="M333.5 245.5L235.3 175.8L206.4 603.8"/><path d="M333.5 245.5L264.2 175.8L206.4 603.8"/><path d="M333.5 245.5L408.7 175.8L206.4 603.8"/><path d="M333.5 245.5L437.6 175.8L206.4 603.8"/>
<path d="M333.5 245.5L235.3 197.2L206.4 603.8"/><path d="M333.5 245.5L437.6 197.2L206.4 603.8"/>
<path d="M333.5 245.5L206.4 218.6L206.4 603.8"/><path d="M333.5 245.5L235.3 218.6L206.4 603.8"/><path d="M333.5 245.5L437.6 218.6L206.4 603.8"/>
<path d="M333.5 245.5L206.4 240L206.4 603.8"/><path d="M333.5 245.5L235.3 240L206.4 603.8"/><path d="M333.5 245.5L437.6 240L206.4 603.8"/>
<path d="M333.5 245.5L235.3 261.4L206.4 603.8"/><path d="M333.5 245.5L437.6 261.4L206.4 603.8"/>
<path d="M333.5 245.5L437.6 282.8L206.4 603.8"/>
<path d="M333.5 245.5L408.7 304.2L206.4 603.8"/><path d="M333.5 245.5L437.6 304.2L206.4 603.8"/>
<path d="M333.5 245.5L379.8 325.6L206.4 603.8"/><path d="M333.5 245.5L408.7 325.6L206.4 603.8"/><path d="M333.5 245.5L437.6 325.6L206.4 603.8"/>
<path d="M333.5 245.5L350.9 347L206.4 603.8"/><path d="M333.5 245.5L379.8 347L206.4 603.8"/><path d="M333.5 245.5L408.7 347L206.4 603.8"/>
<path d="M333.5 245.5L379.8 368.4L206.4 603.8"/>
<path d="M227.5 378.5L177.5 261.4L206.4 603.8"/><path d="M227.5 378.5L206.4 261.4L206.4 603.8"/>
<path d="M227.5 378.5L148.6 282.8L206.4 603.8"/><path d="M227.5 378.5L177.5 282.8L206.4 603.8"/><path d="M227.5 378.5L206.4 282.8L206.4 603.8"/><path d="M227.5 378.5L235.3 282.8L206.4 603.8"/>
<path d="M227.5 378.5L119.7 304.2L206.4 603.8"/><path d="M227.5 378.5L148.6 304.2L206.4 603.8"/>
<path d="M227.5 378.5L119.7 325.6L206.4 603.8"/><path d="M227.5 378.5L148.6 325.6L206.4 603.8"/>
<path d="M227.5 378.5L119.7 347L206.4 603.8"/><path d="M227.5 378.5L322 347L206.4 603.8"/>
<path d="M227.5 378.5L119.7 368.4L206.4 603.8"/><path d="M227.5 378.5L322 368.4L206.4 603.8"/><path d="M227.5 378.5L350.9 368.4L206.4 603.8"/>
<path d="M227.5 378.5L119.7 389.8L206.4 603.8"/><path d="M227.5 378.5L322 389.8L206.4 603.8"/><path d="M227.5 378.5L350.9 389.8L206.4 603.8"/>
<path d="M227.5 378.5L119.7 411.2L206.4 603.8"/><path d="M227.5 378.5L322 411.2L206.4 603.8"/><path d="M227.5 378.5L350.9 411.2L206.4 603.8"/>
<path d="M227.5 378.5L119.7 432.6L206.4 603.8"/><path d="M227.5 378.5L148.6 432.6L206.4 603.8"/><path d="M227.5 378.5L322 432.6L206.4 603.8"/>
<path d="M227.5 378.5L119.7 454L206.4 603.8"/><path d="M227.5 378.5L148.6 454L206.4 603.8"/><path d="M227.5 378.5L293.1 454L206.4 603.8"/><path d="M227.5 378.5L322 454L206.4 603.8"/>
<path d="M227.5 378.5L148.6 475.4L206.4 603.8"/><path d="M227.5 378.5L177.5 475.4L206.4 603.8"/><path d="M227.5 378.5L206.4 475.4L206.4 603.8"/><path d="M227.5 378.5L235.3 475.4L206.4 603.8"/><path d="M227.5 378.5L264.2 475.4L206.4 603.8"/><path d="M227.5 378.5L293.1 475.4L206.4 603.8"/>
<path d="M227.5 378.5L177.5 496.8L206.4 603.8"/><path d="M227.5 378.5L206.4 496.8L206.4 603.8"/><path d="M227.5 378.5L235.3 496.8L206.4 603.8"/><path d="M227.5 378.5L264.2 496.8L206.4 603.8"/>
<path d="M495 493.5L466.5 368.4L206.4 603.8"/><path d="M495 493.5L495.4 368.4L206.4 603.8"/><path d="M495 493.5L524.3 368.4L206.4 603.8"/>
<path d="M495 493.5L437.6 389.8L206.4 603.8"/><path d="M495 493.5L466.5 389.8L206.4 603.8"/><path d="M495 493.5L495.4 389.8L206.4 603.8"/><path d="M495 493.5L524.3 389.8L206.4 603.8"/><path d="M495 493.5L553.2 389.8L206.4 603.8"/>
<path d="M495 493.5L408.7 411.2L206.4 603.8"/><path d="M495 493.5L437.6 411.2L206.4 603.8"/><path d="M495 493.5L553.2 411.2L206.4 603.8"/><path d="M495 493.5L582.1 411.2L206.4 603.8"/>
<path d="M495 493.5L379.8 432.6L206.4 603.8"/><path d="M495 493.5L408.7 432.6L206.4 603.8"/><path d="M495 493.5L582.1 432.6L206.4 603.8"/><path d="M495 493.5L611 432.6L206.4 603.8"/>
<path d="M495 493.5L379.8 454L206.4 603.8"/><path d="M495 493.5L408.7 454L206.4 603.8"/><path d="M495 493.5L582.1 454L206.4 603.8"/><path d="M495 493.5L611 454L206.4 603.8"/>
<path d="M495 493.5L379.8 475.4L206.4 603.8"/><path d="M495 493.5L611 475.4L206.4 603.8"/>
<path d="M495 493.5L379.8 496.8L206.4 603.8"/><path d="M495 493.5L611 496.8L206.4 603.8"/>
<path d="M495 493.5L379.8 518.2L206.4 603.8"/><path d="M495 493.5L611 518.2L206.4 603.8"/>
<path d="M495 493.5L379.8 539.6L206.4 603.8"/><path d="M495 493.5L408.7 539.6L206.4 603.8"/><path d="M495 493.5L582.1 539.6L206.4 603.8"/><path d="M495 493.5L611 539.6L206.4 603.8"/>
<path d="M495 493.5L408.7 561L206.4 603.8"/><path d="M495 493.5L582.1 561L206.4 603.8"/>
<path d="M495 493.5L408.7 582.4L206.4 603.8"/><path d="M495 493.5L437.6 582.4L206.4 603.8"/><path d="M495 493.5L466.5 582.4L206.4 603.8"/><path d="M495 493.5L524.3 582.4L206.4 603.8"/><path d="M495 493.5L553.2 582.4L206.4 603.8"/><path d="M495 493.5L582.1 582.4L206.4 603.8"/>
<path d="M495 493.5L437.6 603.8L206.4 603.8"/><path d="M495 493.5L466.5 603.8L206.4 603.8"/><path d="M495 493.5L495.4 603.8L206.4 603.8"/><path d="M495 493.5L524.3 603.8L206.4 603.8"/><path d="M495 493.5L553.2 603.8L206.4 603.8"/>
<path d="M495 493.5L495.4 625.2L206.4 603.8"/>
</g>
</g>
</svg>
